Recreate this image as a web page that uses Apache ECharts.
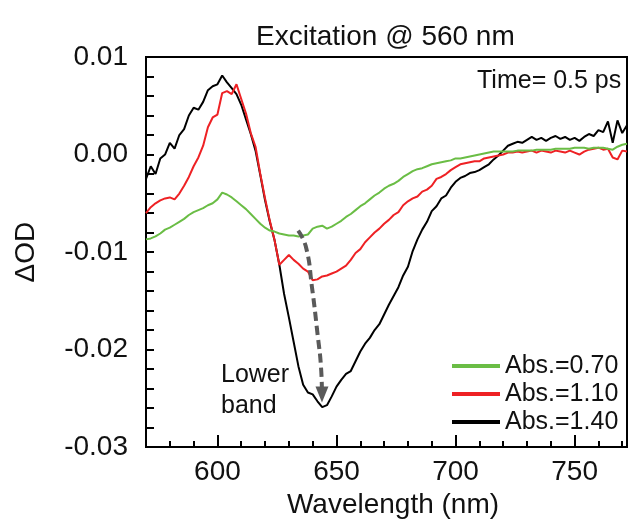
<!DOCTYPE html>
<html>
<head>
<meta charset="utf-8">
<title>Excitation @ 560 nm</title>
<script src="https://cdn.jsdelivr.net/npm/echarts@6/dist/echarts.min.js"></script>
<style>
  html, body { margin: 0; padding: 0; background: #fff; }
  #main { width: 630px; height: 524px; }
</style>
</head>
<body>
<div id="main"></div>
<script>
// wavelength grid (nm)
var wavelengths = [
  570, 572, 574, 576, 578, 580, 582, 584, 586, 588,
  590, 592, 594, 596, 598, 600, 602, 604, 606, 608,
  610, 612, 614, 616, 618, 620, 622, 624, 626, 628,
  630, 632, 634, 636, 638, 640, 642, 644, 646, 648,
  650, 652, 654, 656, 658, 660, 662, 664, 666, 668,
  670, 672, 674, 676, 678, 680, 682, 684, 686, 688,
  690, 692, 694, 696, 698, 700, 702, 704, 706, 708,
  710, 712, 714, 716, 718, 720, 722, 724, 726, 728,
  730, 732, 734, 736, 738, 740, 742, 744, 746, 748,
  750, 752, 754, 756, 758, 760, 762, 764, 766, 768,
  770, 772
];

// Abs.=0.70 (green)
var abs070 = [
  -0.0087, -0.0086, -0.0084, -0.0081, -0.0077, -0.0075, -0.0072, -0.0069, -0.0066, -0.0062,
  -0.0059, -0.0057, -0.0055, -0.0052, -0.0050, -0.0046, -0.0039, -0.0041, -0.0044, -0.0048,
  -0.0052, -0.0056, -0.0061, -0.0066, -0.0071, -0.0075, -0.0078, -0.0079, -0.0081, -0.0082,
  -0.0083, -0.0083, -0.0084, -0.0083, -0.0082, -0.0076, -0.0074, -0.0073, -0.0076, -0.0074,
  -0.0071, -0.0068, -0.0064, -0.0061, -0.0057, -0.0053, -0.0050, -0.0046, -0.0042, -0.0039,
  -0.0035, -0.0032, -0.0030, -0.0027, -0.0023, -0.0020, -0.0017, -0.0015, -0.0014, -0.0012,
  -0.0010, -0.0009, -0.0008, -0.0007, -0.0006, -0.0004, -0.0004, -0.0003, -0.0002, -0.0001,
  0.0000, 0.0001, 0.0002, 0.0003, 0.0003, 0.0003, 0.0003, 0.0003, 0.0004, 0.0004,
  0.0004, 0.0004, 0.0005, 0.0005, 0.0005, 0.0005, 0.0006, 0.0006, 0.0006, 0.0006,
  0.0007, 0.0007, 0.0007, 0.0006, 0.0007, 0.0007, 0.0007, 0.0006, 0.0005, 0.0008,
  0.0010, 0.0011
];

// Abs.=1.10 (red)
var abs110 = [
  -0.0060, -0.0054, -0.0050, -0.0047, -0.0045, -0.0044, -0.0046, -0.0040, -0.0032, -0.0023,
  -0.0012, -0.0003, 0.0009, 0.0028, 0.0038, 0.0041, 0.0063, 0.0065, 0.0062, 0.0072,
  0.0057, 0.0042, 0.0022, 0.0008, -0.0020, -0.0045, -0.0068, -0.0088, -0.0113, -0.0108,
  -0.0103, -0.0108, -0.0112, -0.0117, -0.0120, -0.0129, -0.0128, -0.0125, -0.0124, -0.0122,
  -0.0120, -0.0117, -0.0114, -0.0108, -0.0101, -0.0097, -0.0090, -0.0085, -0.0080, -0.0076,
  -0.0071, -0.0067, -0.0062, -0.0059, -0.0052, -0.0048, -0.0045, -0.0043, -0.0038, -0.0036,
  -0.0032, -0.0025, -0.0023, -0.0020, -0.0016, -0.0013, -0.0010, -0.0009, -0.0008, -0.0007,
  -0.0007, -0.0004, -0.0003, -0.0002, -0.0001, 0.0000, 0.0002, 0.0002, 0.0003, 0.0002,
  0.0003, 0.0004, 0.0002, 0.0004, 0.0003, 0.0002, 0.0004, 0.0003, 0.0002, 0.0004,
  0.0002, 0.0000, 0.0003, 0.0005, 0.0006, 0.0007, 0.0005, 0.0006, -0.0003, -0.0005,
  0.0004, 0.0003
];

// Abs.=1.40 (black)
var abs140 = [
  -0.0025, -0.0012, -0.0020, -0.0004, 0.0000, 0.0012, 0.0006, 0.0020, 0.0026, 0.0040,
  0.0048, 0.0046, 0.0054, 0.0066, 0.0070, 0.0072, 0.0081, 0.0074, 0.0068, 0.0062,
  0.0051, 0.0036, 0.0021, 0.0004, -0.0021, -0.0047, -0.0069, -0.0088, -0.0113, -0.0143,
  -0.0167, -0.0192, -0.0217, -0.0236, -0.0244, -0.0246, -0.0253, -0.0259, -0.0257, -0.0248,
  -0.0238, -0.0231, -0.0225, -0.0222, -0.0212, -0.0202, -0.0194, -0.0188, -0.0180, -0.0174,
  -0.0164, -0.0154, -0.0145, -0.0136, -0.0124, -0.0115, -0.0099, -0.0087, -0.0077, -0.0069,
  -0.0058, -0.0053, -0.0045, -0.0042, -0.0034, -0.0028, -0.0024, -0.0022, -0.0019, -0.0018,
  -0.0016, -0.0013, -0.0010, -0.0005, -0.0001, 0.0004, 0.0009, 0.0011, 0.0013, 0.0012,
  0.0015, 0.0018, 0.0015, 0.0017, 0.0014, 0.0017, 0.0019, 0.0016, 0.0018, 0.0015,
  0.0017, 0.0014, 0.0018, 0.0021, 0.0019, 0.0025, 0.0023, 0.0034, 0.0012, 0.0035,
  0.0022, 0.0030
];

// dashed arrow marking the shift of the lower band
var arrowWl = [633.9, 637.2, 639.7, 641.8, 643.6, 643.9];
var arrowVal = [-0.0078, -0.0095, -0.0136, -0.0179, -0.0222, -0.0246];

var xTicks = [600, 650, 700, 750];
var seriesNames = ['Abs.=0.70', 'Abs.=1.10', 'Abs.=1.40'];

var FONT = "'Liberation Sans', Arial, sans-serif";

function pairs(xs, ys) {
  var out = [];
  for (var i = 0; i < xs.length; i++) out.push([xs[i], ys[i]]);
  return out;
}

var arrowData = pairs(arrowWl, arrowVal).map(function (p, i, all) {
  if (i === all.length - 1) {
    return { value: p, symbol: 'triangle', symbolSize: [13, 16], symbolRotate: 180 };
  }
  return { value: p, symbol: 'none' };
});

var chart = echarts.init(document.getElementById('main'), null, { renderer: 'canvas' });

// plot runs past the right edge of the picture, so the frame's right side is pushed out of view
var xBase = { type: 'value', min: 570, max: 772, gridIndex: 0, position: 'bottom' };

var option = {
  backgroundColor: '#ffffff',
  animation: false,
  textStyle: { fontFamily: FONT, color: '#111' },
  title: [
    {
      text: 'Excitation @ 560 nm', left: 251, top: 18,
      textStyle: { fontSize: 28, fontWeight: 'normal', color: '#111', fontFamily: FONT }
    },
    {
      text: 'Time= 0.5 ps', left: 472, top: 64,
      textStyle: { fontSize: 25, fontWeight: 'normal', color: '#111', fontFamily: FONT }
    },
    {
      text: 'Lower\nband', left: 216, top: 355,
      textStyle: { fontSize: 25, fontWeight: 'normal', color: '#111', fontFamily: FONT, lineHeight: 31 }
    }
  ],
  legend: {
    data: seriesNames,
    orient: 'vertical',
    left: 447, top: 348,
    icon: 'rect',
    itemWidth: 48, itemHeight: 4,
    itemGap: 2,
    textStyle: { fontSize: 25, color: '#111', fontFamily: FONT, lineHeight: 26 }
  },
  grid: {
    left: 146, right: -1, top: 57, bottom: 72,
    show: true, borderColor: '#000', borderWidth: 2, backgroundColor: 'transparent'
  },
  xAxis: [
    Object.assign({}, xBase, {
      interval: 10,
      name: 'Wavelength (nm)',
      nameLocation: 'middle',
      nameGap: 42,
      nameTextStyle: { fontSize: 28, color: '#111', fontFamily: FONT, padding: [0, 0, 0, 13] },
      axisLine: { show: true, onZero: false, lineStyle: { color: '#000', width: 2 } },
      axisTick: { show: true, inside: true, length: 6, lineStyle: { color: '#000', width: 2 } },
      axisLabel: {
        fontSize: 28, color: '#111', margin: 11,
        formatter: function (v) { return v % 50 === 0 ? String(v) : ''; }
      },
      splitLine: { show: false }
    }),
    Object.assign({}, xBase, {
      axisLine: { show: false, onZero: false },
      axisTick: { show: true, inside: true, length: 12, customValues: xTicks, lineStyle: { color: '#000', width: 2 } },
      axisLabel: { show: false },
      splitLine: { show: false }
    })
  ],
  yAxis: {
    type: 'value',
    min: -0.03, max: 0.01, interval: 0.01,
    name: 'ΔOD',
    nameLocation: 'middle',
    nameGap: 106,
    nameTextStyle: { fontSize: 28, color: '#111', fontFamily: FONT },
    axisLine: { show: true, lineStyle: { color: '#000', width: 2 } },
    axisTick: { show: true, inside: true, length: 8, lineStyle: { color: '#000', width: 2 } },
    minorTick: { show: true, splitNumber: 5, length: 8, lineStyle: { color: '#000', width: 2 } },
    axisLabel: {
      fontSize: 28, color: '#111', margin: 18,
      formatter: function (v) { return v.toFixed(2); }
    },
    splitLine: { show: false }
  },
  series: [
    {
      name: 'Abs.=1.40', type: 'line', xAxisIndex: 0,
      data: pairs(wavelengths, abs140),
      showSymbol: false, symbol: 'none',
      lineStyle: { color: '#000000', width: 2 }, itemStyle: { color: '#000000' }
    },
    {
      name: 'Abs.=1.10', type: 'line', xAxisIndex: 0,
      data: pairs(wavelengths, abs110),
      showSymbol: false, symbol: 'none',
      lineStyle: { color: '#ee2124', width: 2 }, itemStyle: { color: '#ee2124' }
    },
    {
      name: 'Abs.=0.70', type: 'line', xAxisIndex: 0,
      data: pairs(wavelengths, abs070),
      showSymbol: false, symbol: 'none',
      lineStyle: { color: '#6abd45', width: 2 }, itemStyle: { color: '#6abd45' }
    },
    {
      name: 'arrow', type: 'line', xAxisIndex: 0,
      data: arrowData,
      smooth: true,
      showSymbol: true,
      z: 5,
      lineStyle: { color: '#5a5a5a', width: 4, type: [9, 5] },
      itemStyle: { color: '#5a5a5a' }
    }
  ]
};

chart.setOption(option);
</script>
</body>
</html>
